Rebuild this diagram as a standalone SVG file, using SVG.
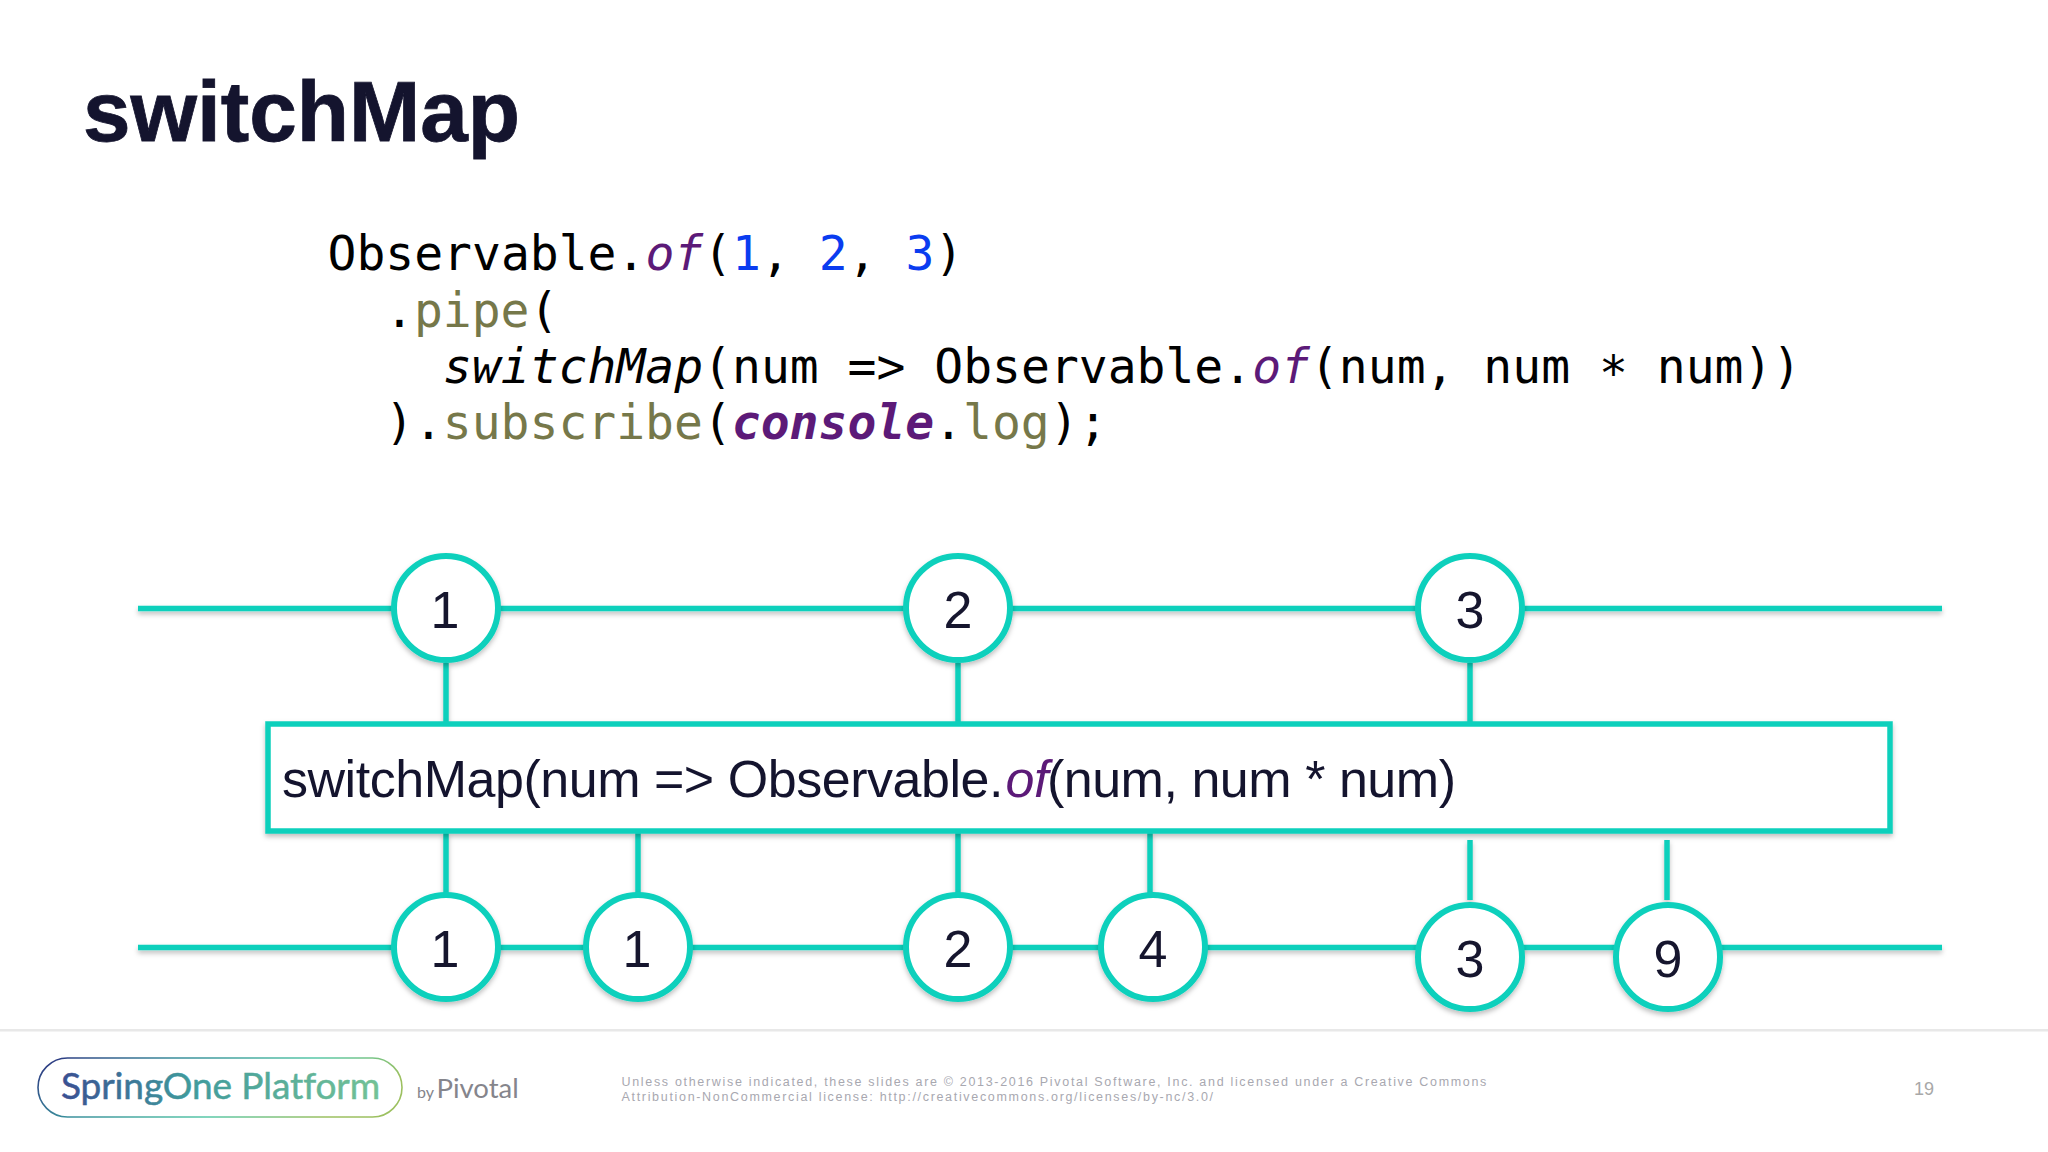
<svg xmlns="http://www.w3.org/2000/svg" width="2048" height="1152" viewBox="0 0 2048 1152">
<style>
.ln{stroke:#0cd0bc;stroke-width:5.5;fill:none}
.c{fill:#fff;stroke:#0cd0bc;stroke-width:6}
.d{font-family:"Liberation Sans",Arial,sans-serif;font-size:52px;fill:#14142e;text-anchor:middle}
.code{font-family:"DejaVu Sans Mono",monospace;font-size:48px;fill:#000}
.ol{fill:#76784a}
.pu{fill:#5c1a78}
.bl{fill:#0a3cf0}
.it{font-style:italic}
.foot{font-family:"Liberation Sans",Arial,sans-serif;font-size:12.5px;fill:#a8a8b0;letter-spacing:1.68px}
</style>
<defs>
<filter id="sh" x="-10%" y="-10%" width="120%" height="130%"><feDropShadow dx="0" dy="3" stdDeviation="2.5" flood-color="#000" flood-opacity="0.25"/></filter>
<linearGradient id="pill" x1="0" y1="0" x2="1" y2="0.3"><stop offset="0" stop-color="#2b2f7f"/><stop offset="0.35" stop-color="#3a8f9c"/><stop offset="0.7" stop-color="#58c8a8"/><stop offset="1" stop-color="#9cc060"/></linearGradient>
<linearGradient id="logo" x1="0" y1="0" x2="1" y2="0"><stop offset="0" stop-color="#3a4f92"/><stop offset="0.4" stop-color="#3f9a9c"/><stop offset="1" stop-color="#74c296"/></linearGradient>
</defs>
<rect width="2048" height="1152" fill="#fff"/>
<text x="83" y="141" font-family="Liberation Sans,Arial,sans-serif" font-weight="700" font-size="85.5" fill="#14142e" stroke="#14142e" stroke-width="0.8">switchMap</text>

<g id="code" class="code">
<text x="327.5" y="270">Observable.<tspan class="pu it">of</tspan>(<tspan class="bl">1</tspan>, <tspan class="bl">2</tspan>, <tspan class="bl">3</tspan>)</text>
<text x="385" y="327">.<tspan class="ol">pipe</tspan>(</text>
<text x="443" y="383"><tspan class="it">switchMap</tspan>(num =&gt; Observable.<tspan class="pu it">of</tspan>(num, num <tspan dy="7">*</tspan><tspan dy="-7"> num))</tspan></text>
<text x="385" y="439">).<tspan class="ol">subscribe</tspan>(<tspan class="pu it" font-weight="700">console</tspan>.<tspan class="ol">log</tspan>);</text>
</g>

<g id="connectors" filter="url(#sh)">
<path class="ln" d="M138 608.5H1942"/>
<path class="ln" d="M138 947.5H1942"/>
<path class="ln" d="M446 663V722M958 663V722M1470 663V722"/>
<path class="ln" d="M446 833V893M638 833V893M958 833V893M1150 833V893M1470 840V900M1667 840V900"/>
</g>

<g id="box" filter="url(#sh)">
<rect x="268" y="724" width="1622" height="107" fill="#fff" stroke="#0cd0bc" stroke-width="5.5"/>
</g>
<text id="boxlabel" x="282" y="797" font-family="Liberation Sans,Arial,sans-serif" font-size="52" letter-spacing="-0.47" fill="#14142e">switchMap(num =&gt; Observable.<tspan class="pu" font-style="italic" dx="2.5">of</tspan><tspan dx="-1">(num, num * num)</tspan></text>

<g id="t1" filter="url(#sh)"><circle class="c" cx="446" cy="608" r="52"/><text class="d" x="445" y="628">1</text></g>
<g id="t2" filter="url(#sh)"><circle class="c" cx="958" cy="608" r="52"/><text class="d" x="958" y="628">2</text></g>
<g id="t3" filter="url(#sh)"><circle class="c" cx="1470" cy="608" r="52"/><text class="d" x="1470" y="628">3</text></g>
<g id="b1" filter="url(#sh)"><circle class="c" cx="446" cy="947" r="52"/><text class="d" x="445" y="967">1</text></g>
<g id="b2" filter="url(#sh)"><circle class="c" cx="638" cy="947" r="52"/><text class="d" x="637" y="967">1</text></g>
<g id="b3" filter="url(#sh)"><circle class="c" cx="958" cy="947" r="52"/><text class="d" x="958" y="967">2</text></g>
<g id="b4" filter="url(#sh)"><circle class="c" cx="1153" cy="947" r="52"/><text class="d" x="1153" y="967">4</text></g>
<g id="b5" filter="url(#sh)"><circle class="c" cx="1470" cy="957" r="52"/><text class="d" x="1470" y="977">3</text></g>
<g id="b6" filter="url(#sh)"><circle class="c" cx="1668" cy="957" r="52"/><text class="d" x="1668" y="977">9</text></g>

<g id="footer">
<rect x="0" y="1029" width="2048" height="2.5" fill="#e8e8e8"/>
<rect x="38" y="1058" width="364" height="59" rx="29.5" fill="#fff" stroke="url(#pill)" stroke-width="1.6"/>
<text x="61" y="1099" font-family="Lato,sans-serif" font-size="37" letter-spacing="-0.1" fill="url(#logo)" stroke="url(#logo)" stroke-width="0.5">SpringOne Platform</text>
<text x="417" y="1098" font-family="Lato,sans-serif" font-size="16" fill="#85858c">by</text>
<text x="436.5" y="1098" font-family="Lato,sans-serif" font-size="27.5" fill="#85858c">Pivotal</text>
<text class="foot" x="621.5" y="1086">Unless otherwise indicated, these slides are © 2013-2016 Pivotal Software, Inc. and licensed under a Creative Commons</text>
<text class="foot" x="621.5" y="1101">Attribution-NonCommercial license: http://creativecommons.org/licenses/by-nc/3.0/</text>
<text x="1914" y="1095" font-family="Liberation Sans,Arial,sans-serif" font-size="18" fill="#a8a8a8">19</text>
</g>
</svg>
